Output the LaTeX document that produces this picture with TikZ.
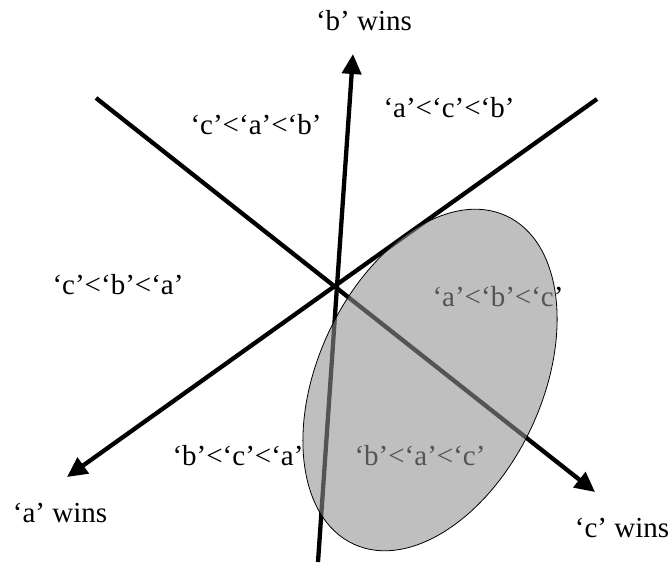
\documentclass[tikz,border=0pt]{standalone}
\usepackage{fontspec}
\setmainfont{Liberation Serif}
\usetikzlibrary{arrows.meta}
\tikzset{
  axis/.style={line width=4.3pt, -{Triangle[length=20pt,width=19pt]}},
  lbl/.style={font=\fontsize{29}{34}\selectfont, inner sep=0pt},
  region/.style={draw=black, line width=0.8pt, fill=black!43, fill opacity=0.58}
}
\begin{document}
\begin{tikzpicture}[x=1pt,y=-1pt]
  \useasboundingbox (0,0) rectangle (671,563);

  % End points of the three axes
  \coordinate (cstart) at (96,98);
  \coordinate (ctip) at (595,492);
  \coordinate (astart) at (597,99);
  \coordinate (atip) at (67,477);
  \coordinate (bstart) at (318,562);
  \coordinate (btip) at (353,54);

  % Labels in the plane
  \node[lbl] (bwins) at (364,21) {`b' wins};
  \node[lbl] (acb) at (449,108) {`a'<`c'<`b'};
  \node[lbl] (cab) at (256,125) {`c'<`a'<`b'};
  \node[lbl] (cba) at (118,285) {`c'<`b'<`a'};
  \node[lbl] (abc) at (498,297) {`a'<`b'<`c'};
  \node[lbl] (bca) at (238,456) {`b'<`c'<`a'};
  \node[lbl] (bac) at (420,456) {`b'<`a'<`c'};
  \node[lbl] (awins) at (60,513) {`a' wins};
  \node[lbl] (cwins) at (622,528) {`c' wins};

  % Axes
  \draw[axis] (cstart) -- (ctip);
  \draw[axis] (astart) -- (atip);
  \draw[axis] (bstart) -- (btip);

  % Shaded region
  \draw[region, rotate around={65:(430,380)}] (430,380) ellipse [x radius=181pt, y radius=112pt];
\end{tikzpicture}
\end{document}
